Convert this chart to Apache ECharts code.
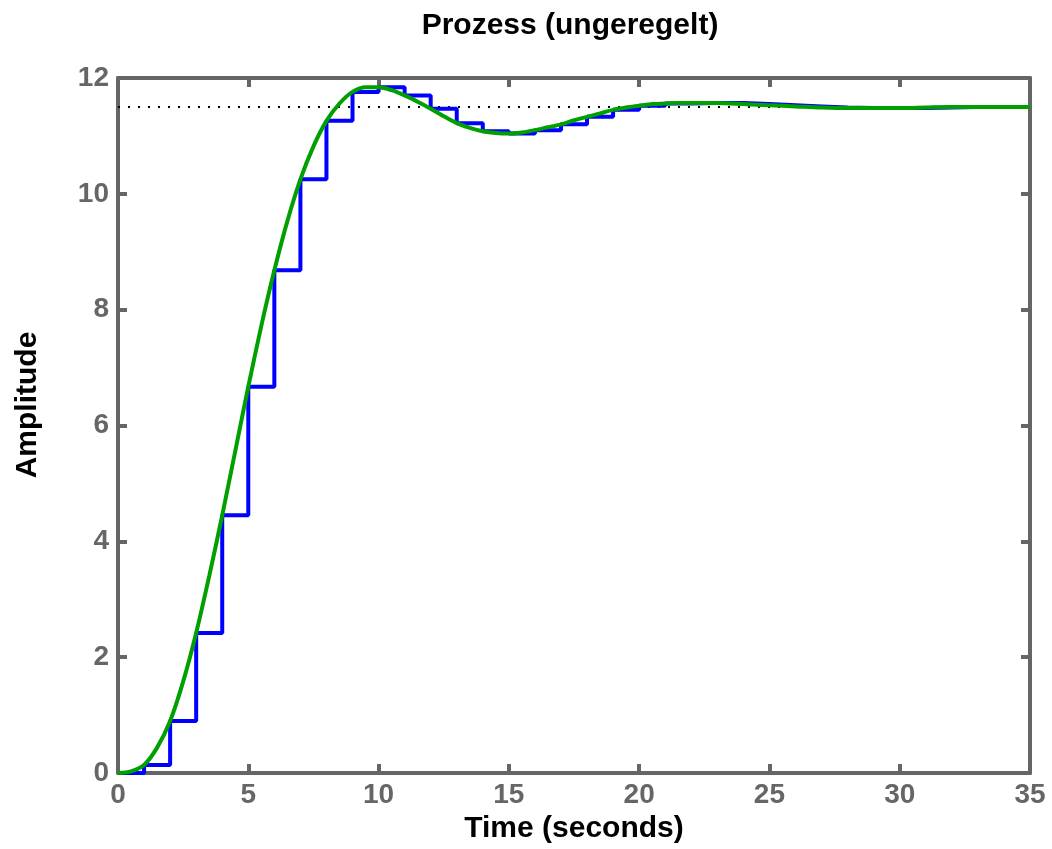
<!DOCTYPE html>
<html>
<head>
<meta charset="utf-8">
<script src="https://cdn.jsdelivr.net/npm/echarts@6/dist/echarts.min.js"></script>
<style>
  html, body { margin: 0; padding: 0; background: #fff; }
  #chart { width: 1052px; height: 849px; }
</style>
</head>
<body>
<div id="chart"></div>
<script>
// Sampled (zero-order hold) step response, one value per second, t = 0..35
const sampleTimes = [0,1,2,3,4,5,6,7,8,9,10,11,12,13,14,15,16,17,18,19,20,21,22,23,24,25,26,27,28,29,30,31,32,33,34,35];
const sampledResponse = [0,0.14,0.9,2.42,4.45,6.67,8.68,10.25,11.26,11.76,11.84,11.70,11.47,11.22,11.08,11.04,11.10,11.20,11.33,11.45,11.52,11.56,11.57,11.57,11.55,11.53,11.51,11.49,11.48,11.48,11.48,11.49,11.50,11.50,11.50,11.50];

// Continuous step response
const contTimes = [0,0.5,1,1.5,2,2.5,3,3.5,4,4.5,5,5.5,6,6.5,7,7.5,8,8.5,9,9.5,10,10.5,11,11.5,12,12.5,13,13.5,14,14.5,15,15.5,16,16.5,17,17.5,18,18.5,19,19.5,20,20.5,21,21.5,22,22.5,23,23.5,24,25,26,27,28,29,30,31,32,33,34,35];
const contResponse = [0,0.03,0.14,0.44,0.9,1.58,2.42,3.4,4.45,5.56,6.67,7.72,8.68,9.53,10.25,10.82,11.26,11.56,11.76,11.84,11.84,11.79,11.70,11.59,11.47,11.34,11.22,11.14,11.08,11.05,11.04,11.06,11.10,11.15,11.20,11.27,11.33,11.39,11.45,11.49,11.52,11.55,11.56,11.57,11.57,11.57,11.57,11.56,11.55,11.53,11.51,11.49,11.48,11.48,11.48,11.49,11.50,11.50,11.50,11.50];

// Steady-state value
const finalValue = 11.5;
const xRange = [0, 35];
const yRange = [0, 12];

const axisGray = '#666666';
const labelFont = { fontFamily: 'Liberation Sans', fontWeight: 'bold', fontSize: 28, color: axisGray };
const nameFont = { fontFamily: 'Liberation Sans', fontWeight: 'bold', fontSize: 30, color: '#000' };

const chart = echarts.init(document.getElementById('chart'), null, { renderer: 'canvas' });

const baseX = {
  type: 'value', min: xRange[0], max: xRange[1], interval: 5,
  axisLine: { show: true, onZero: false, lineStyle: { color: axisGray, width: 4 } },
  axisTick: { show: true, inside: true, length: 9, lineStyle: { color: axisGray, width: 4 } },
  splitLine: { show: false }
};
const baseY = {
  type: 'value', min: yRange[0], max: yRange[1], interval: 2,
  axisLine: { show: true, onZero: false, lineStyle: { color: axisGray, width: 4 } },
  axisTick: { show: true, inside: true, length: 9, lineStyle: { color: axisGray, width: 4 } },
  splitLine: { show: false }
};

chart.setOption({
  animation: false,
  backgroundColor: '#ffffff',
  title: {
    text: 'Prozess (ungeregelt)',
    left: 565, top: 6, textAlign: 'center',
    textStyle: nameFont
  },
  grid: { left: 118, right: 22, top: 78, bottom: 74 },
  graphic: [
    {
      type: 'text', x: 28, y: 405, rotation: Math.PI / 2,
      style: Object.assign({ text: 'Amplitude', align: 'center', verticalAlign: 'middle',
        fill: '#000', font: 'bold 30px "Liberation Sans"' })
    }
  ],
  xAxis: [
    Object.assign({}, baseX, {
      position: 'bottom',
      name: 'Time (seconds)', nameLocation: 'middle', nameGap: 38,
      nameTextStyle: nameFont,
      axisLabel: Object.assign({ margin: 8 }, labelFont)
    }),
    Object.assign({}, baseX, { position: 'top', axisLabel: { show: false } })
  ],
  yAxis: [
    Object.assign({}, baseY, {
      position: 'left',
      axisLabel: Object.assign({ margin: 9 }, labelFont)
    }),
    Object.assign({}, baseY, { position: 'right', axisLabel: { show: false } })
  ],
  series: [
    {
      name: 'Endwert', type: 'line', xAxisIndex: 0, yAxisIndex: 0,
      data: [[xRange[0], finalValue], [xRange[1], finalValue]],
      symbol: 'none', silent: true,
      lineStyle: { color: '#000', width: 2, type: [2, 8] },
      z: 1
    },
    {
      name: 'diskret', type: 'line', xAxisIndex: 0, yAxisIndex: 0,
      step: 'end',
      data: sampleTimes.map((t, i) => [t, sampledResponse[i]]),
      symbol: 'none',
      lineStyle: { color: '#0000ff', width: 4 },
      z: 2
    },
    {
      name: 'kontinuierlich', type: 'line', xAxisIndex: 0, yAxisIndex: 0,
      smooth: 0.3,
      data: contTimes.map((t, i) => [t, contResponse[i]]),
      symbol: 'none',
      lineStyle: { color: '#00a000', width: 4 },
      z: 3
    }
  ]
});
</script>
</body>
</html>
